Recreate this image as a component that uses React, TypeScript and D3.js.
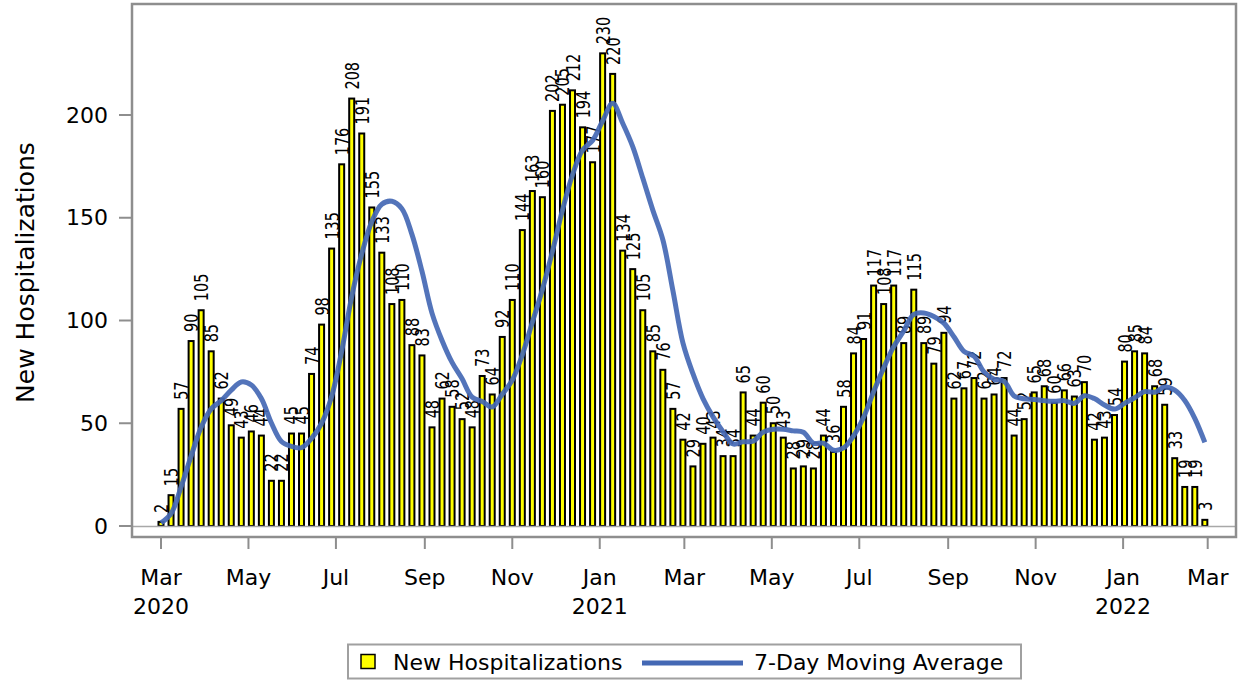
import * as React from "react";
import * as d3 from "d3";

// weekly new hospitalizations, one bar per week starting Sun Mar 1 2020
const weeklyCounts: number[] = [
    2, 15, 57, 90, 105, 85, 62, 49, 43, 46, 44, 22, 22, 45, 45, 74, 98, 135, 176, 208,
    191, 155, 133, 108, 110, 88, 83, 48, 62, 58, 52, 48, 73, 64, 92, 110, 144, 163, 160, 202,
    205, 212, 194, 177, 230, 220, 134, 125, 105, 85, 76, 57, 42, 29, 40, 43, 34, 34, 65, 44,
    60, 50, 43, 28, 29, 28, 44, 36, 58, 84, 91, 117, 108, 117, 89, 115, 89, 79, 94, 62,
    67, 72, 62, 64, 72, 44, 52, 65, 68, 60, 66, 63, 70, 42, 43, 54, 80, 85, 84, 68,
    59, 33, 19, 19, 3,
];

// moving average line at each bar
const movingAvg: number[] = [
    1.5, 6, 19, 34, 48, 57, 61, 66.1, 70.1, 68.6, 62.0, 50.1, 41.1, 38.7, 38.1, 42.6, 50.0, 63.0, 85.0, 111.6,
    132.4, 148.1, 156.6, 158.0, 154.4, 141.9, 124.0, 103.6, 90.3, 79.6, 71.6, 62.7, 60.6, 57.9, 64.1, 71.0, 83.3, 99.1, 115.1, 133.6,
    153.7, 170.9, 182.9, 187.6, 197.1, 205.7, 196.0, 184.6, 169.3, 153.7, 139.3, 114.6, 89.1, 74.1, 62.0, 53.1, 45.9, 39.9, 41.0, 41.3,
    45.7, 47.1, 47.1, 46.3, 45.6, 40.3, 40.3, 36.9, 38.0, 43.9, 52.9, 65.4, 76.9, 87.3, 94.9, 103.0, 103.7, 102.0, 98.7, 92.1,
    85.0, 82.6, 75.0, 71.4, 70.4, 63.3, 61.9, 61.6, 61.0, 60.7, 61.0, 59.7, 63.4, 62.0, 58.9, 56.9, 59.7, 62.4, 65.4, 65.1,
    67.6, 66.1, 61.1, 52.4, 40.7,
];

const weekDates: Date[] = d3.timeWeek.range(new Date(2020, 2, 1), new Date(2022, 2, 1));

const yTicks = [0, 50, 100, 150, 200];
const xTickMonths = ["Mar", "May", "Jul", "Sep", "Nov", "Jan", "Mar", "May", "Jul", "Sep", "Nov", "Jan", "Mar"];
const xTickYears = ["2020", "", "", "", "", "2021", "", "", "", "", "", "2022", ""];

const FONT = "'DejaVu Sans', Verdana, sans-serif";
const BAR_FILL = "#ffff00";
const LINE_COLOR = "#4468b4";
const FRAME_GRAY = "#8e8e8e";

const HospChart: React.FC = () => {
    const svgRef = React.useRef<SVGSVGElement | null>(null);

    React.useEffect(() => {
        if (!svgRef.current) return;
        const svg = d3.select(svgRef.current);
        svg.selectAll("*").remove();

        const frame = { left: 132, top: 4, right: 1236, bottom: 537 };

        const x = d3.scaleTime()
            .domain([new Date(2020, 2, 1), new Date(2022, 2, 1)])
            .range([161, 1207.7]);

        const y = d3.scaleLinear()
            .domain([0, 200])
            .range([526, 115]);

        const data = weekDates.map((d, i) => ({ date: d, count: weeklyCounts[i], avg: movingAvg[i] }));

        // bars
        svg.append("g")
            .selectAll("rect")
            .data(data)
            .enter().append("rect")
            .attr("x", d => x(d.date) - 2.5)
            .attr("y", d => y(d.count))
            .attr("width", 5)
            .attr("height", d => y(0) - y(d.count))
            .attr("fill", BAR_FILL)
            .attr("stroke", "#000")
            .attr("stroke-width", 2);

        // zero reference line
        svg.append("line")
            .attr("x1", frame.left).attr("x2", frame.right)
            .attr("y1", y(0) + 0.5).attr("y2", y(0) + 0.5)
            .attr("stroke", "#a8a8a8")
            .attr("stroke-width", 1.5);

        // bar labels
        svg.append("g")
            .selectAll("text")
            .data(data)
            .enter().append("text")
            .attr("transform", d => `translate(${x(d.date)},${y(d.count) - 9}) rotate(-90)`)
            .attr("text-anchor", "start")
            .attr("dominant-baseline", "central")
            .attr("font-family", FONT)
            .attr("font-size", 19)
            .attr("textLength", d => String(d.count).length * 9.2)
            .attr("lengthAdjust", "spacingAndGlyphs")
            .attr("fill", "#000")
            .text(d => String(d.count));

        // moving average
        const line = d3.line<{ date: Date; avg: number }>()
            .x(d => x(d.date))
            .y(d => y(d.avg))
            .curve(d3.curveCatmullRom.alpha(0.5));

        svg.append("path")
            .datum(data)
            .attr("d", line)
            .attr("fill", "none")
            .attr("stroke", LINE_COLOR)
            .attr("stroke-width", 5)
            .attr("stroke-opacity", 0.92)
            .attr("stroke-linejoin", "round");

        // frame
        svg.append("rect")
            .attr("x", frame.left)
            .attr("y", frame.top)
            .attr("width", frame.right - frame.left)
            .attr("height", frame.bottom - frame.top)
            .attr("fill", "none")
            .attr("stroke", FRAME_GRAY)
            .attr("stroke-width", 2.5);

        // y axis
        const yAxis = svg.append("g");
        yTicks.forEach(t => {
            yAxis.append("line")
                .attr("x1", 119).attr("x2", frame.left)
                .attr("y1", y(t)).attr("y2", y(t))
                .attr("stroke", FRAME_GRAY).attr("stroke-width", 2);
            yAxis.append("text")
                .attr("x", 108).attr("y", y(t))
                .attr("text-anchor", "end")
                .attr("dominant-baseline", "central")
                .attr("font-family", FONT).attr("font-size", 22)
                .attr("fill", "#000")
                .text(t);
        });

        svg.append("text")
            .attr("transform", `translate(25,${(frame.top + frame.bottom) / 2 + 2}) rotate(-90)`)
            .attr("text-anchor", "middle")
            .attr("dominant-baseline", "central")
            .attr("font-family", FONT).attr("font-size", 25)
            .attr("fill", "#000")
            .text("New Hospitalizations");

        // x axis
        const xTicks = x.ticks(d3.timeMonth.every(2)!);
        const xAxis = svg.append("g");
        xTicks.forEach((t, i) => {
            xAxis.append("line")
                .attr("x1", x(t)).attr("x2", x(t))
                .attr("y1", frame.bottom).attr("y2", 549)
                .attr("stroke", FRAME_GRAY).attr("stroke-width", 2);
            xAxis.append("text")
                .attr("x", x(t)).attr("y", 577)
                .attr("text-anchor", "middle")
                .attr("dominant-baseline", "central")
                .attr("font-family", FONT).attr("font-size", 22)
                .attr("fill", "#000")
                .text(xTickMonths[i] ?? "");
            if (xTickYears[i]) {
                xAxis.append("text")
                    .attr("x", x(t)).attr("y", 606)
                    .attr("text-anchor", "middle")
                    .attr("dominant-baseline", "central")
                    .attr("font-family", FONT).attr("font-size", 22)
                    .attr("fill", "#000")
                    .text(xTickYears[i]);
            }
        });

        // legend
        const lg = svg.append("g");
        lg.append("rect")
            .attr("x", 348).attr("y", 644.5)
            .attr("width", 673).attr("height", 34)
            .attr("fill", "#fff")
            .attr("stroke", "#a0a0a0").attr("stroke-width", 2);
        lg.append("rect")
            .attr("x", 361).attr("y", 654.5)
            .attr("width", 14).attr("height", 14)
            .attr("fill", BAR_FILL)
            .attr("stroke", "#000").attr("stroke-width", 1.5);
        lg.append("text")
            .attr("x", 393).attr("y", 662)
            .attr("dominant-baseline", "central")
            .attr("font-family", FONT).attr("font-size", 22)
            .attr("fill", "#000")
            .text("New Hospitalizations");
        lg.append("line")
            .attr("x1", 642).attr("x2", 743)
            .attr("y1", 663).attr("y2", 663)
            .attr("stroke", LINE_COLOR).attr("stroke-width", 5);
        lg.append("text")
            .attr("x", 754).attr("y", 662)
            .attr("dominant-baseline", "central")
            .attr("font-family", FONT).attr("font-size", 22)
            .attr("fill", "#000")
            .text("7-Day Moving Average");
    }, []);

    return <svg ref={svgRef} width={1241} height={684} style={{ display: "block" }} />;
};

export default function App() {
    return (
        <div style={{ position: "absolute", left: 0, top: 0, background: "#fff" }}>
            <HospChart />
        </div>
    );
}
